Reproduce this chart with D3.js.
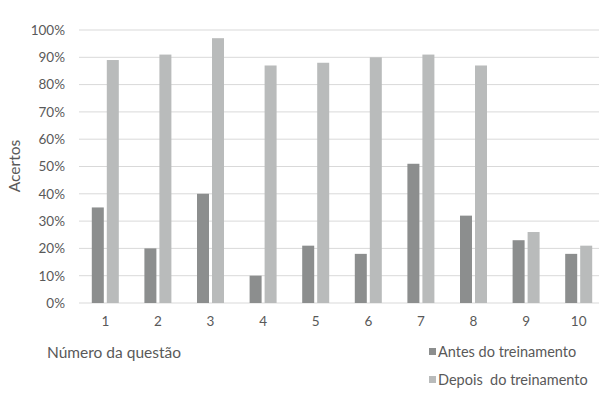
<!DOCTYPE html>
<html>
<head>
<meta charset="utf-8">
<script src="https://cdn.jsdelivr.net/npm/d3@7"></script>
<style>
  body { margin: 0; background: #fff; }
  text { font-family: Lato, "Open Sans", sans-serif; fill: #595959; }
</style>
</head>
<body>
<div id="chart"></div>
<script>
// Data
const questions = ["1", "2", "3", "4", "5", "6", "7", "8", "9", "10"];
const antes = [35, 20, 40, 10, 21, 18, 51, 32, 23, 18];
const depois = [89, 91, 97, 87, 88, 90, 91, 87, 26, 21];
const yTicks = [0, 10, 20, 30, 40, 50, 60, 70, 80, 90, 100];
const seriesNames = ["Antes do treinamento", "Depois\u00a0 do treinamento"];
const colors = ["#8c8e8e", "#b9bbbb"];

const width = 599, height = 396;
const svg = d3.select("#chart").append("svg")
    .attr("width", width)
    .attr("height", height);

// Scales
const x = d3.scaleBand().domain(questions).range([79, 605]);
const y = d3.scaleLinear().domain([0, 100]).range([303, 30]);

// Gridlines
svg.append("g")
    .selectAll("line")
    .data(yTicks)
    .join("line")
    .attr("x1", 79)
    .attr("x2", 605)
    .attr("y1", d => y(d))
    .attr("y2", d => y(d))
    .attr("stroke", "#d9d9d9")
    .attr("stroke-width", 1);

// Y axis labels
const yAxis = d3.axisLeft(y).tickValues(yTicks).tickFormat(d => d + "%").tickSize(0).tickPadding(0);
svg.append("g")
    .attr("transform", "translate(65,0)")
    .call(yAxis)
    .call(g => g.select(".domain").remove())
    .selectAll("text")
    .style("font-size", "13.5px")
    .style("font-family", "Lato, 'Open Sans', sans-serif")
    .attr("fill", "#595959");

// X axis labels
const xAxis = d3.axisBottom(x).tickSize(0).tickPadding(0);
svg.append("g")
    .attr("transform", "translate(0,316)")
    .call(xAxis)
    .call(g => g.select(".domain").remove())
    .selectAll("text")
    .style("font-size", "13.5px")
    .style("font-family", "Lato, 'Open Sans', sans-serif")
    .attr("fill", "#595959");

// Bars
const barW = 12, gap = 3;
const groups = svg.append("g");
[antes, depois].forEach((vals, si) => {
    groups.append("g")
        .selectAll("rect")
        .data(vals)
        .join("rect")
        .attr("x", (d, i) => x(questions[i]) + x.bandwidth() / 2 + (si === 0 ? -(barW + gap / 2) : gap / 2))
        .attr("y", d => y(d))
        .attr("width", barW)
        .attr("height", d => y(0) - y(d))
        .attr("fill", colors[si]);
});

// Axis titles
svg.append("text")
    .attr("transform", "rotate(-90)")
    .attr("x", -166)
    .attr("y", 20)
    .attr("text-anchor", "middle")
    .style("font-size", "15.5px")
    .text("Acertos");

svg.append("text")
    .attr("x", 47)
    .attr("y", 358)
    .style("font-size", "15.5px")
    .text("Número da questão");

// Legend
const legend = svg.append("g");
seriesNames.forEach((name, i) => {
    const ly = 352 + i * 28;
    legend.append("rect")
        .attr("x", 429)
        .attr("y", ly - 4)
        .attr("width", 7)
        .attr("height", 7)
        .attr("fill", colors[i]);
    legend.append("text")
        .attr("x", 438)
        .attr("y", ly + 5)
        .style("font-size", "14.5px")
        .text(name);
});
</script>
</body>
</html>
